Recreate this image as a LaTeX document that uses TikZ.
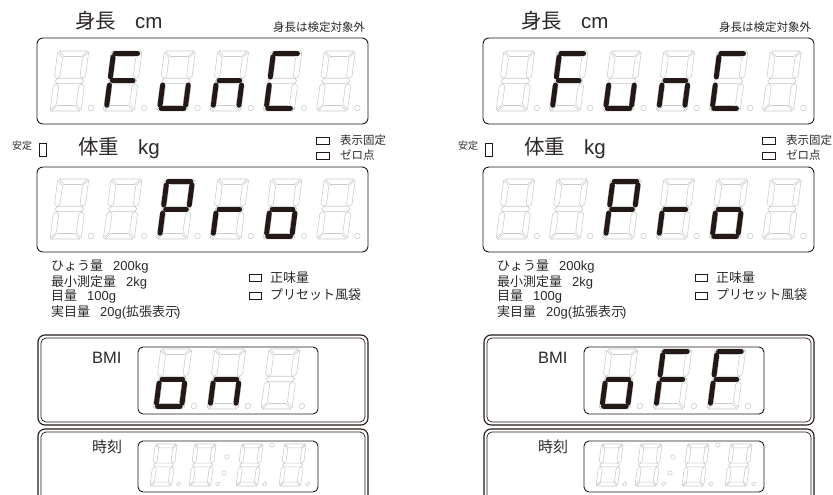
\documentclass[tikz,border=0pt]{standalone}
\usepackage{fontspec}
\setmainfont{Liberation Sans}
\newfontfamily\jp{Noto Sans CJK JP}
\definecolor{ghostgray}{RGB}{200,201,202}
\definecolor{segblack}{RGB}{35,24,21}
\definecolor{txtc}{RGB}{45,40,40}
\newcommand{\fbig}{\fontsize{20.5}{24}\selectfont}
\newcommand{\fmid}{\fontsize{13}{15}\selectfont}
\newcommand{\fnote}{\fontsize{11.5}{13}\selectfont}
\newcommand{\fsmall}{\fontsize{10}{12}\selectfont}
% outline of one segment of a 7-segment digit (a..g)
\newcommand{\segpath}[2]{%
  \if a#2\path[#1] (1.2,60) -- (29.8,60) -- (24.3,54.5) -- (6.7,54.5) -- cycle;\fi
  \if b#2\path[#1] (31,58.8) -- (25.5,53.3) -- (25.5,35.15) -- (28.25,32.4) -- (31,35.15) -- cycle;\fi
  \if c#2\path[#1] (31,1.2) -- (25.5,6.7) -- (25.5,24.85) -- (28.25,27.6) -- (31,24.85) -- cycle;\fi
  \if d#2\path[#1] (1.2,0) -- (29.8,0) -- (24.3,5.5) -- (6.7,5.5) -- cycle;\fi
  \if e#2\path[#1] (0,1.2) -- (5.5,6.7) -- (5.5,24.85) -- (2.75,27.6) -- (0,24.85) -- cycle;\fi
  \if f#2\path[#1] (0,58.8) -- (5.5,53.3) -- (5.5,35.15) -- (2.75,32.4) -- (0,35.15) -- cycle;\fi
  \if g#2\path[#1] (1.2,30) -- (3.95,32.75) -- (27.05,32.75) -- (29.8,30) -- (27.05,27.25) -- (3.95,27.25) -- cycle;\fi
}
% lit bar of a segment
\newcommand{\segbar}[2]{%
  \if a#2\path[#1] (4.2,57.2) -- (26.8,57.2);\fi
  \if b#2\path[#1] (28.3,54.2) -- (28.3,34);\fi
  \if c#2\path[#1] (28.3,26) -- (28.3,5.8);\fi
  \if d#2\path[#1] (4.2,2.8) -- (26.8,2.8);\fi
  \if e#2\path[#1] (2.7,26) -- (2.7,5.8);\fi
  \if f#2\path[#1] (2.7,54.2) -- (2.7,34);\fi
  \if g#2\path[#1] (5.2,30) -- (25.8,30);\fi
}
\tikzset{
  seg ghost/.style={draw=ghostgray, line width=0.55pt, line join=round},
  seg lit/.style={draw=segblack, line width=5pt, line cap=round},
  sevenseg/.pic={
    \foreach \s in {a,b,c,d,e,f,g} {\segpath{seg ghost}{\s}}
    \foreach \s in {#1} {\segbar{seg lit}{\s}}
    \path[seg ghost] (40.5,3) circle (2.8);
  }
}
\begin{document}
\begin{tikzpicture}[x=1pt,y=1pt,
  lbl/.style={inner sep=0pt, anchor=west, text=txtc},
  panel/.style={draw=segblack, line width=0.9pt, rounded corners=6pt},
  frame/.style={draw=segblack, line width=1.1pt, rounded corners=7pt},
  inframe/.style={draw=segblack, line width=0.7pt, rounded corners=5pt},
  lamp/.style={draw=segblack, line width=0.8pt},
  digit/.style={xslant=0.13},
  clock/.style={xslant=0.13, scale=0.7}]
\useasboundingbox (0,0) rectangle (833,-495);
\clip (0,0) rectangle (833,-495);

\foreach \dx in {0,446} {
\begin{scope}[shift={(\dx,0)}]
  % height
  \node[lbl, font=\fbig] (hgt\dx) at (75,-21) {{\jp 身長}\hspace{19pt}cm};
  \node[lbl, font=\fnote] (hgtnote\dx) at (273,-27) {\jp 身長は検定対象外};
  \draw[panel] (37,-38) rectangle (368,-124);
  \pic[digit] at (50,-111) {sevenseg=x};
  \pic[digit] at (103.3,-111) {sevenseg={a,e,f,g}};
  \pic[digit] at (156.6,-111) {sevenseg={c,d,e}};
  \pic[digit] at (209.9,-111) {sevenseg={c,e,g}};
  \pic[digit] at (263.2,-111) {sevenseg={a,d,e,f}};
  \pic[digit] at (316.5,-111) {sevenseg=x};

  % weight
  \node[lbl, font=\fsmall] (stab\dx) at (12,-146) {\jp 安定};
  \draw[lamp] (39,-143) rectangle (46,-156);
  \node[lbl, font=\fbig] (wgt\dx) at (78,-148) {{\jp 体重}\hspace{19pt}kg};
  \draw[lamp] (316,-137) rectangle (329,-144);
  \node[lbl, font=\fnote] (hold\dx) at (340,-140) {\jp 表示固定};
  \draw[lamp] (316,-152) rectangle (329,-159);
  \node[lbl, font=\fnote] (zero\dx) at (340,-155) {\jp ゼロ点};
  \draw[panel] (37,-167) rectangle (368,-252);
  \pic[digit] at (50,-239) {sevenseg=x};
  \pic[digit] at (103.3,-239) {sevenseg=x};
  \pic[digit] at (156.6,-239) {sevenseg={a,b,e,f,g}};
  \pic[digit] at (209.9,-239) {sevenseg={e,g}};
  \pic[digit] at (263.2,-239) {sevenseg={c,d,e,g}};
  \pic[digit] at (316.5,-239) {sevenseg=x};

  % specs
  \node[lbl, font=\fmid] (cap\dx) at (51,-267) {{\jp ひょう量}\hspace{10pt}200kg};
  \node[lbl, font=\fmid] (minw\dx) at (51,-282) {{\jp 最小測定量}\hspace{10pt}2kg};
  \node[lbl, font=\fmid] (div\dx) at (51,-297) {{\jp 目量}\hspace{10pt}100g};
  \node[lbl, font=\fmid] (act\dx) at (51,-312) {{\jp 実目量}\hspace{10pt}20g({\jp 拡張表示}\kern-2pt)};
  \draw[lamp] (249,-274) rectangle (261,-281);
  \node[lbl, font=\fmid] (net\dx) at (270,-278) {\jp 正味量};
  \draw[lamp] (249,-292) rectangle (261,-299);
  \node[lbl, font=\fmid] (tare\dx) at (270,-295) {\jp プリセット風袋};

  % BMI
  \draw[frame] (38,-335) rectangle (368,-425);
  \draw[inframe] (41,-338) rectangle (365,-422);
  \node[lbl, font=\fontsize{16.5}{18}\selectfont] (bmi\dx) at (92,-358) {BMI};
  \draw[panel, rounded corners=5pt] (138,-347) rectangle (318,-414);

  % clock
  \draw[frame] (38,-429) rectangle (368,-540);
  \draw[inframe] (41,-432) rectangle (365,-540);
  \node[lbl, font=\fontsize{15}{18}\selectfont] (clk\dx) at (92,-447) {\jp 時刻};
  \draw[panel, rounded corners=5pt] (138,-441) rectangle (318,-492);
  \pic[clock] at (150,-486) {sevenseg=x};
  \pic[clock] at (189,-486) {sevenseg=x};
  \pic[clock] at (236,-486) {sevenseg=x};
  \pic[clock] at (279,-486) {sevenseg=x};
  \draw[seg ghost] (227,-457) circle (2.2) (224,-473) circle (2.2) (272,-445) circle (2.2);
\end{scope}
}

% BMI readings
\pic[digit] at (153,-409) {sevenseg={c,d,e,g}};
\pic[digit] at (207,-409) {sevenseg={c,e,g}};
\pic[digit] at (261,-409) {sevenseg=x};
\pic[digit] at (599,-409) {sevenseg={c,d,e,g}};
\pic[digit] at (653,-409) {sevenseg={a,e,f,g}};
\pic[digit] at (707,-409) {sevenseg={a,e,f,g}};
\end{tikzpicture}
\end{document}
